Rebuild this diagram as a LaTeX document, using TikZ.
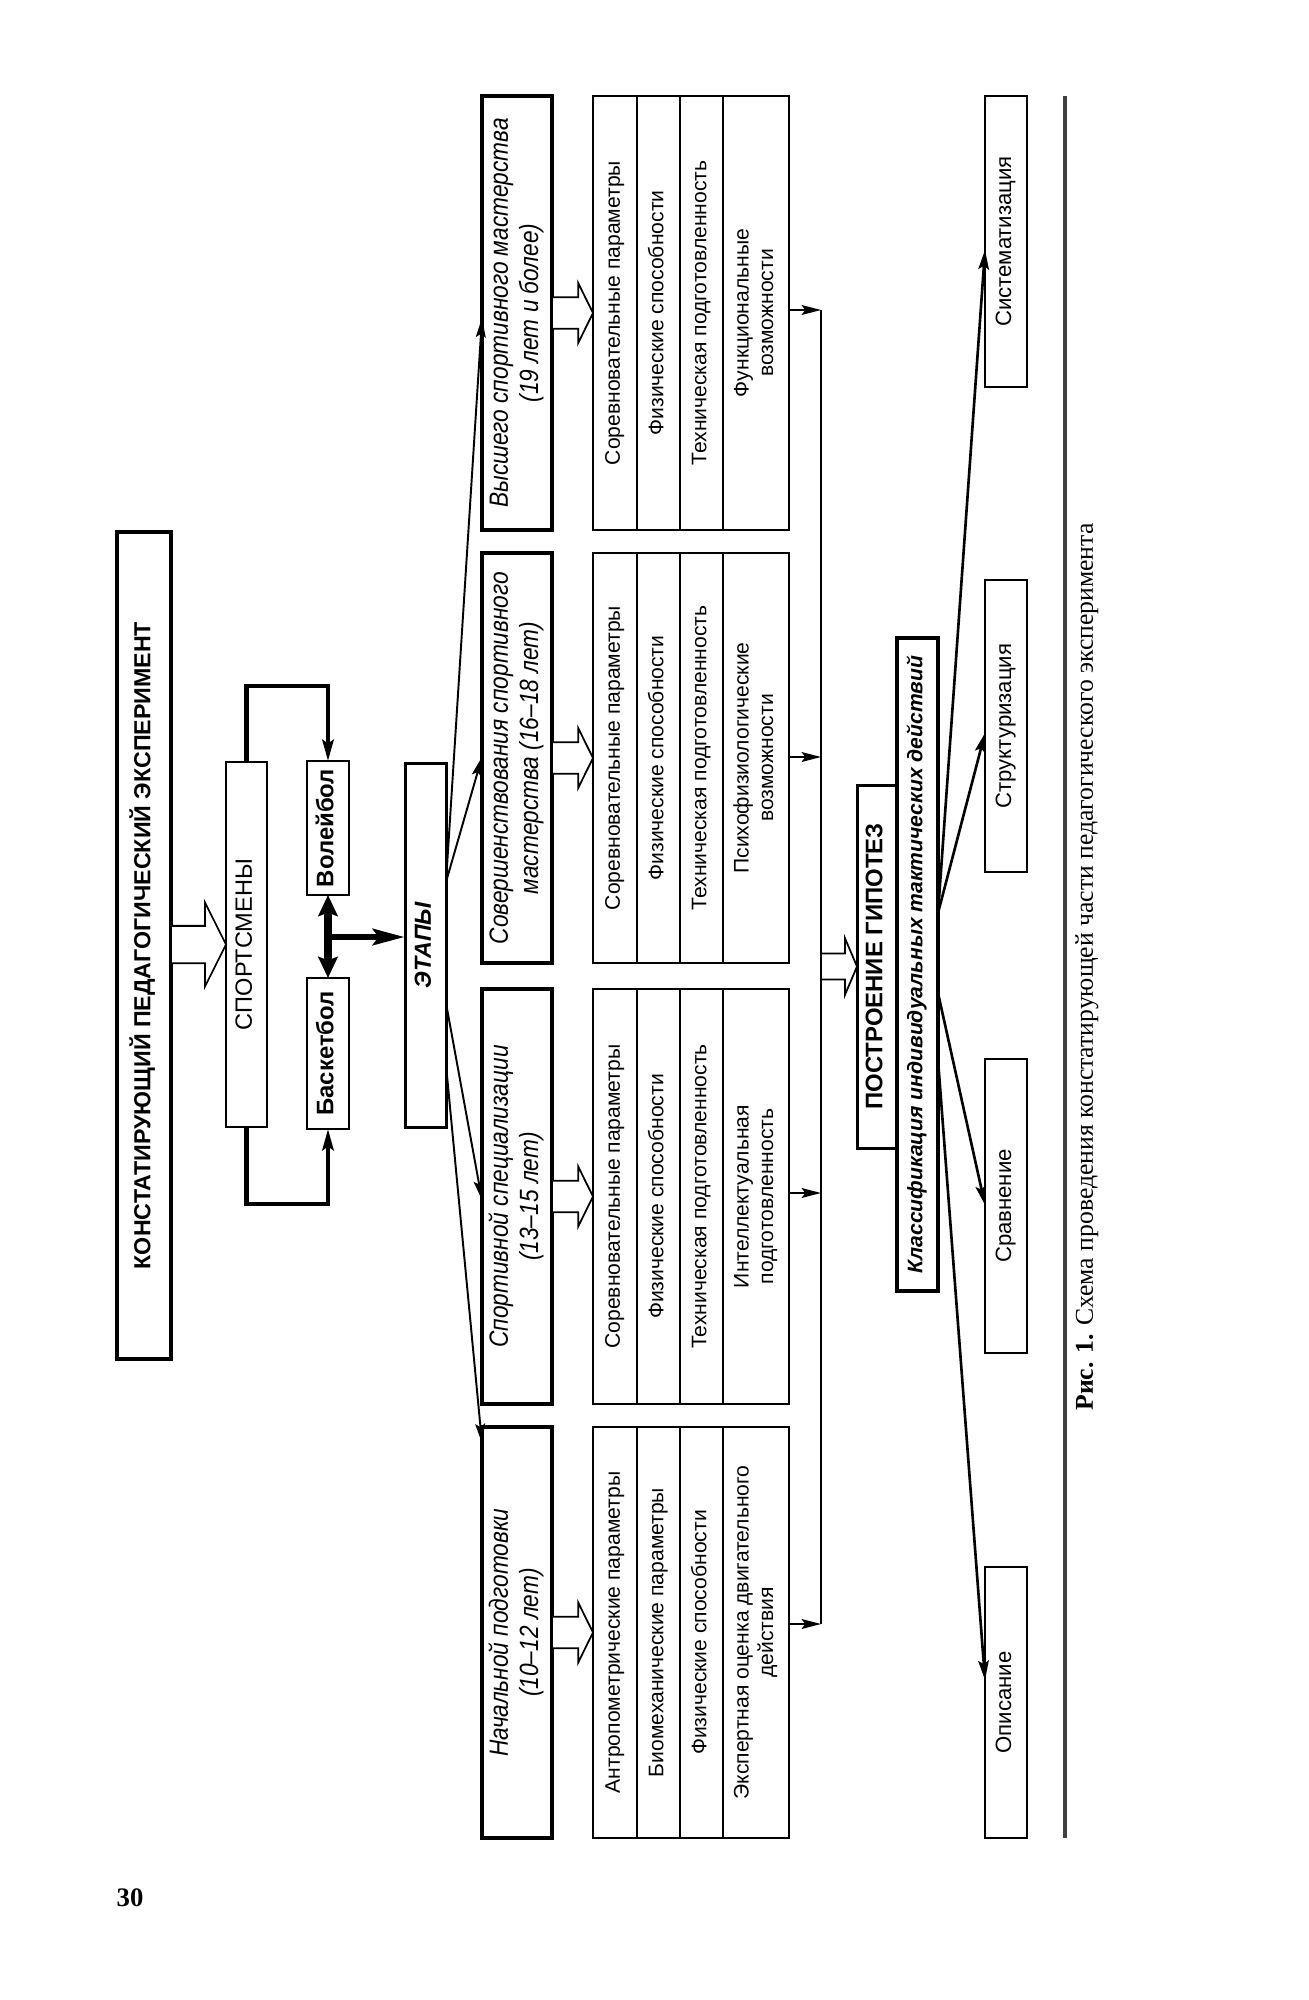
\documentclass[tikz,border=0pt]{standalone}
\usepackage{fontspec}
\setmainfont{Liberation Sans}
\newfontfamily\capfont{Liberation Serif}
\newfontfamily\narrowsans[FakeStretch=0.86]{Liberation Sans}
\usetikzlibrary{arrows.meta,calc}
\newcommand{\rt}[1]{\rotatebox{90}{\begin{tabular}{@{}c@{}}#1\end{tabular}}}
\newcommand{\placebox}[7]{\node[#2, minimum width={(#5-#3)*0.01cm}, minimum height={(#6-#4)*0.01cm}] (#1) at ({(#3+#5)/2},{(#4+#6)/2}) {\rt{#7}};}
\newcommand{\hollowarrow}[5]{\draw[hollowline] let \p1=#1, \p2=#2 in (\x1,\y2+#3) -- (\x2-#5,\y2+#3) -- (\x2-#5,\y2+#4) -- (\x2,\y2) -- (\x2-#5,\y2-#4) -- (\x2-#5,\y2-#3) -- (\x1,\y2-#3) -- cycle;}
\newcommand{\params}[7]{%
  \placebox{#1}{parambox}{593}{#2}{789}{#3}{}%
  \foreach \dx in {637,680,723}{\draw[paramline] (#1.north -| \dx,0) -- (#1.south -| \dx,0);}%
  \node[paramf] (#1a) at (615,{(#2+#3)/2}) {\rt{#4}};%
  \node[paramf] (#1b) at (658.5,{(#2+#3)/2}) {\rt{#5}};%
  \node[paramf] (#1c) at (701.5,{(#2+#3)/2}) {\rt{#6}};%
  \node[paramf] (#1d) at (756,{(#2+#3)/2}) {\rt{#7}};%
}
\tikzset{
  every node/.style={inner sep=0pt, outer sep=0pt},
  titlebox/.style={draw, line width=1.1pt, fill=white, font=\fontsize{6.6}{7.6}\selectfont\bfseries},
  thinbox/.style={draw, line width=0.45pt, fill=white},
  medbox/.style={draw, line width=0.85pt, fill=white},
  stagebox/.style={draw, line width=1pt, fill=white, font=\narrowsans\fontsize{7.5}{8.6}\selectfont\itshape},
  parambox/.style={draw, line width=0.6pt, fill=white},
  paramline/.style={line width=0.55pt},
  plainf/.style={font=\fontsize{6.7}{7.7}\selectfont},
  boldf/.style={font=\fontsize{6.8}{7.8}\selectfont\bfseries},
  bif/.style={font=\fontsize{6.6}{7.6}\selectfont\bfseries\itshape},
  klassf/.style={font=\fontsize{6}{7}\selectfont\bfseries\itshape},
  botf/.style={font=\fontsize{6.3}{7.3}\selectfont},
  paramf/.style={font=\fontsize{6}{7}\selectfont},
  capf/.style={font=\capfont\fontsize{7.3}{8.5}\selectfont},
  pagef/.style={font=\capfont\bfseries\fontsize{7.6}{9}\selectfont},
  hollowline/.style={line width=0.5pt, fill=white, line join=miter},
  fan/.style={line width=0.55pt, -{Stealth[length=5.5pt,width=2.8pt,inset=1pt]}},
  fanb/.style={line width=0.75pt, -{Stealth[length=5.5pt,width=3pt,inset=1pt]}},
  bracket/.style={line width=1.15pt, -{Stealth[length=6pt,width=3.2pt,inset=1pt]}},
  dbl/.style={line width=2pt, {Stealth[length=6pt,width=5.5pt,inset=1pt]}-{Stealth[length=6pt,width=5.5pt,inset=1pt]}},
  thickarr/.style={line width=1.9pt, -{Stealth[length=9pt,width=4.5pt,inset=1.5pt]}},
  rule/.style={line width=1.2pt, black!75},
}
\begin{document}
\begin{tikzpicture}[x=0.01cm, y=-0.01cm]
\useasboundingbox (0,0) rectangle (1308,2000);
\fill[white] (0,0) rectangle (1308,2000);

% top part
\placebox{title}{titlebox}{117}{532}{171}{1359}{КОНСТАТИРУЮЩИЙ ПЕДАГОГИЧЕСКИЙ ЭКСПЕРИМЕНТ}
\placebox{sport}{thinbox,plainf}{226}{762}{267}{1127}{СПОРТСМЕНЫ}
\placebox{volley}{thinbox,boldf}{307}{761}{349}{895}{Волейбол}
\placebox{basket}{thinbox,boldf}{307}{978}{349}{1129}{Баскетбол}
\placebox{etapy}{medbox,bif}{405}{763}{446}{1127}{ЭТАПЫ}

\hollowarrow{(title.east)}{(sport.west)}{5.3pt}{12pt}{6pt}
\draw[bracket] (sport.north) -- ++(0,-76) -| (volley.north);
\draw[bracket] (sport.south) -- ++(0,77) -| (basket.south);
\draw[dbl] (volley.south) -- (basket.north);
\draw[thickarr] (volley.south |- 0,937) -- (etapy.west |- 0,937);

% stages
\placebox{s4}{stagebox}{482}{96}{552}{530}{Высшего спортивного мастерства\\(19 лет и более)}
\placebox{s3}{stagebox}{482}{553}{552}{963}{Совершенствования спортивного\\мастерства (16–18 лет)}
\placebox{s2}{stagebox}{482}{989}{552}{1404}{Спортивной специализации\\(13–15 лет)}
\placebox{s1}{stagebox}{482}{1427}{552}{1838}{Начальной подготовки\\(10–12 лет)}

\draw[fan] (etapy.east |- 0,882) -- (s4.west |- 0,318);
\draw[fan] (etapy.east |- 0,882) -- (s3.west |- 0,757);
\draw[fan] (etapy.east |- 0,1003) -- (s2.west |- 0,1200);
\draw[fan] (etapy.east |- 0,1065) -- (s1.west |- 0,1443);

% parameter boxes
\params{p4}{96}{530}{Соревновательные параметры}{Физические способности}{Техническая подготовленность}{Функциональные\\возможности}
\params{p3}{553}{963}{Соревновательные параметры}{Физические способности}{Техническая подготовленность}{Психофизиологические\\возможности}
\params{p2}{989}{1404}{Соревновательные параметры}{Физические способности}{Техническая подготовленность}{Интеллектуальная\\подготовленность}
\params{p1}{1427}{1838}{Антропометрические параметры}{Биомеханические параметры}{Физические способности}{Экспертная оценка двигательного\\действия}

\hollowarrow{(s4.east)}{(p4.west)}{4.5pt}{8.5pt}{4.2pt}
\hollowarrow{(s3.east)}{(p3.west)}{4.5pt}{8.5pt}{4.2pt}
\hollowarrow{(s2.east)}{(p2.west)}{4.5pt}{8.5pt}{4.2pt}
\hollowarrow{(s1.east)}{(p1.west)}{4.5pt}{8.5pt}{4.2pt}

% collecting line
\coordinate (vtop) at (821,310);
\coordinate (vbot) at (821,1624);
\draw[line width=0.6pt] (vtop) -- (vbot);
\draw[fan] (p4.east |- vtop) -- (vtop);
\draw[fan] (p3.east |- 0,757) -- (vtop |- 0,757);
\draw[fan] (p2.east |- 0,1193) -- (vtop |- 0,1193);
\draw[fan] (p1.east |- vbot) -- (vbot);

% hypotheses
\placebox{postr}{medbox,boldf}{857}{785}{897}{1148}{ПОСТРОЕНИЕ ГИПОТЕЗ}
\placebox{klass}{medbox,klassf,line width=1.1pt}{897}{638}{938}{1291}{Классификация индивидуальных тактических действий}
\hollowarrow{(vtop)}{(postr.west)}{3.7pt}{8pt}{3.4pt}

% bottom boxes
\placebox{sist}{thinbox,botf}{985}{96}{1027}{387}{Систематизация}
\placebox{strukt}{thinbox,botf}{985}{580}{1027}{872}{Структуризация}
\placebox{srav}{thinbox,botf}{985}{1059}{1027}{1353}{Сравнение}
\placebox{opis}{thinbox,botf}{985}{1567}{1027}{1838}{Описание}

\draw[fanb] (klass.east |- 0,913) -- (sist.west |- 0,250);
\draw[fanb] (klass.east |- 0,913) -- (strukt.west |- 0,733);
\draw[fanb] (klass.east |- 0,993) -- (srav.west |- 0,1205);
\draw[fanb] (klass.east |- 0,1060) -- (opis.west |- 0,1680);

% rule, caption, page number
\coordinate (r1) at (1065,96);
\coordinate (r2) at (1065,1838);
\draw[rule] (r1) -- (r2);
\node[capf] (cap) at (1087,967) {\rt{\textbf{Рис. 1.} Схема проведения констатирующей части педагогического эксперимента}};
\node[pagef] (page) at (130,1898) {30};
\end{tikzpicture}
\end{document}
